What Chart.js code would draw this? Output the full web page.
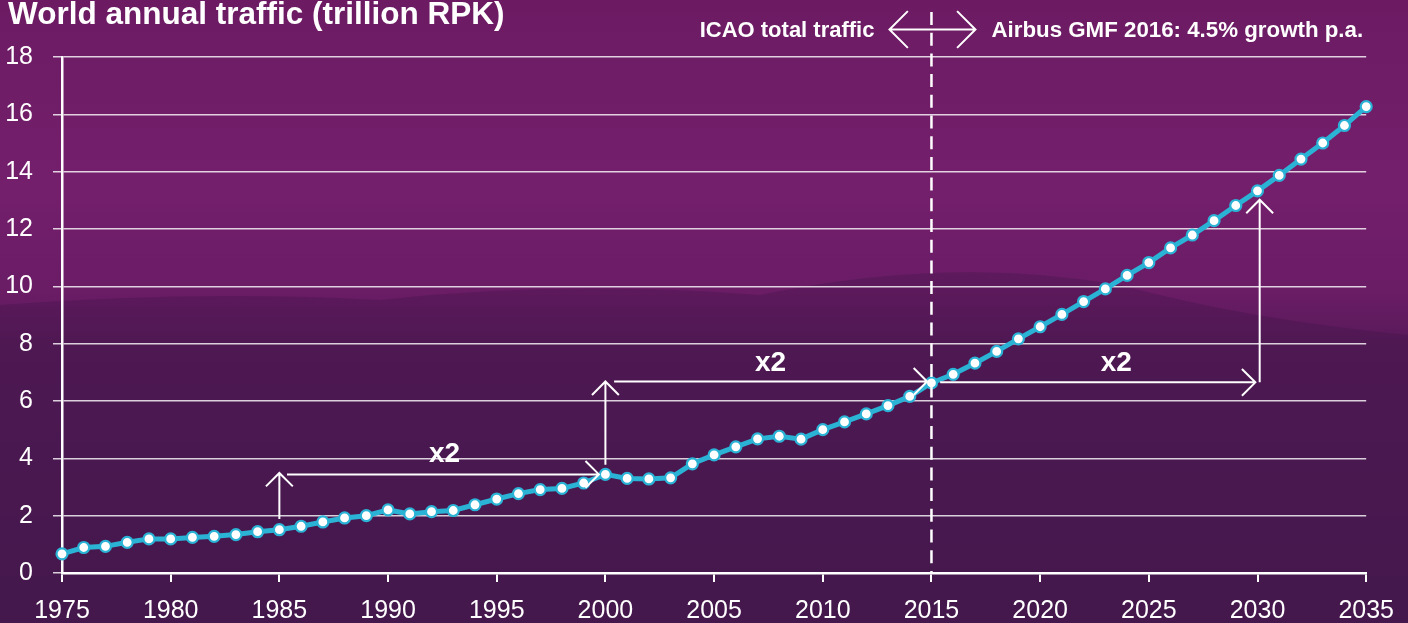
<!DOCTYPE html>
<html lang="en">
<head>
  <meta charset="UTF-8">
  <title>World annual traffic</title>
  <script src="https://cdn.jsdelivr.net/npm/chart.js"></script>
  <style>
    html, body { margin: 0; padding: 0; background: #5a1a5c; }
    .chart-container { width: 1408px; height: 623px; position: relative; }
  </style>
</head>
<body>
  <div class="chart-container">
    <canvas id="trafficChart"></canvas>
  </div>

  <script>
    const years = [1975, 1976, 1977, 1978, 1979, 1980, 1981, 1982, 1983, 1984,
      1985, 1986, 1987, 1988, 1989, 1990, 1991, 1992, 1993, 1994,
      1995, 1996, 1997, 1998, 1999, 2000, 2001, 2002, 2003, 2004,
      2005, 2006, 2007, 2008, 2009, 2010, 2011, 2012, 2013, 2014,
      2015, 2016, 2017, 2018, 2019, 2020, 2021, 2022, 2023, 2024,
      2025, 2026, 2027, 2028, 2029, 2030, 2031, 2032, 2033, 2034, 2035];
    const traffic = [0.67, 0.89, 0.93, 1.07, 1.19, 1.19, 1.24, 1.28, 1.34, 1.44,
      1.51, 1.63, 1.78, 1.92, 2.00, 2.20, 2.06, 2.14, 2.18, 2.38,
      2.58, 2.77, 2.91, 2.95, 3.14, 3.44, 3.30, 3.28, 3.32, 3.81,
      4.12, 4.40, 4.68, 4.77, 4.67, 5.00, 5.27, 5.55, 5.84, 6.16,
      6.63, 6.93, 7.32, 7.73, 8.17, 8.59, 9.02, 9.47, 9.91, 10.38,
      10.83, 11.34, 11.79, 12.29, 12.82, 13.33, 13.87, 14.44, 15.00, 15.61, 16.27];
    const xTicks = [1975, 1980, 1985, 1990, 1995, 2000, 2005, 2010, 2015, 2020, 2025, 2030, 2035];
    const yTicks = [0, 2, 4, 6, 8, 10, 12, 14, 16, 18];

    const title = 'World annual traffic (trillion RPK)';
    const historyLabel = 'ICAO total traffic';
    const forecastLabel = 'Airbus GMF 2016: 4.5% growth p.a.';
    const splitYear = 2015;
    const doublingLabel = 'x2';
    // doubling arrows: [x1, y1, x2, y2] in data units, head at the end
    const doublingArrows = [
      [1985, 1.88, 1985, 3.49],
      [1985.35, 3.44, 1999.7, 3.44],
      [2000, 3.78, 2000, 6.68],
      [2000.4, 6.68, 2014.8, 6.68],
      [2015.4, 6.65, 2029.9, 6.65],
      [2030.1, 6.65, 2030.1, 13.02]
    ];
    const doublingLabelPos = [[1992.6, 4.13], [2007.6, 7.32], [2023.5, 7.32]];

    const tickFont = "'Liberation Sans', Arial, sans-serif";
    const boldFont = "'Liberation Sans', Arial, sans-serif";

    function fitFont(ctx, text, weight, family, width) {
      ctx.font = weight + ' 100px ' + family;
      const size = 100 * width / ctx.measureText(text).width;
      return weight + ' ' + size.toFixed(1) + 'px ' + family;
    }

    function arrowLine(ctx, x1, y1, x2, y2, head, both) {
      ctx.beginPath();
      ctx.moveTo(x1, y1);
      ctx.lineTo(x2, y2);
      const a = Math.atan2(y2 - y1, x2 - x1);
      const heads = both ? [[x2, y2, a], [x1, y1, a + Math.PI]] : [[x2, y2, a]];
      heads.forEach(([hx, hy, ang]) => {
        ctx.moveTo(hx - head * Math.cos(ang - Math.PI / 4), hy - head * Math.sin(ang - Math.PI / 4));
        ctx.lineTo(hx, hy);
        ctx.lineTo(hx - head * Math.cos(ang + Math.PI / 4), hy - head * Math.sin(ang + Math.PI / 4));
      });
      ctx.stroke();
    }

    const backdrop = {
      id: 'backdrop',
      beforeDraw(chart) {
        const { ctx, width, height } = chart;
        ctx.save();
        const g = ctx.createLinearGradient(0, 0, 0, height);
        g.addColorStop(0, '#6c1b63');
        g.addColorStop(0.3, '#741f6c');
        g.addColorStop(0.47, '#6a1c65');
        g.addColorStop(0.56, '#561a58');
        g.addColorStop(1, '#481a50');
        ctx.fillStyle = g;
        ctx.fillRect(0, 0, width, height);
        // soft hills
        ctx.fillStyle = 'rgba(60, 20, 70, 0.3)';
        ctx.beginPath();
        ctx.moveTo(0, 305);
        ctx.quadraticCurveTo(200, 290, 380, 300);
        ctx.quadraticCurveTo(560, 280, 760, 295);
        ctx.quadraticCurveTo(950, 255, 1120, 285);
        ctx.quadraticCurveTo(1250, 320, 1408, 335);
        ctx.lineTo(width, height);
        ctx.lineTo(0, height);
        ctx.closePath();
        ctx.fill();
        ctx.restore();
      }
    };

    const annotations = {
      id: 'annotations',
      afterDatasetsDraw(chart) {
        const { ctx, scales: { x, y } } = chart;
        ctx.save();
        ctx.strokeStyle = '#ffffff';
        ctx.fillStyle = '#ffffff';

        // split line
        const sx = x.getPixelForValue(splitYear);
        ctx.lineWidth = 2.5;
        ctx.setLineDash([13, 7.7]);
        ctx.beginPath();
        ctx.moveTo(sx, 12);
        ctx.lineTo(sx, y.getPixelForValue(0));
        ctx.stroke();
        ctx.setLineDash([]);

        // header
        ctx.lineWidth = 2;
        arrowLine(ctx, sx - 42, 29.5, sx + 44, 29.5, 26, true);
        ctx.textBaseline = 'middle';
        ctx.font = fitFont(ctx, historyLabel, 'bold', boldFont, 175);
        ctx.textAlign = 'right';
        ctx.fillText(historyLabel, sx - 57, 31);
        ctx.font = fitFont(ctx, forecastLabel, 'bold', boldFont, 372);
        ctx.textAlign = 'left';
        ctx.fillText(forecastLabel, sx + 60, 31);

        ctx.textBaseline = 'alphabetic';
        ctx.font = fitFont(ctx, title, 'bold', boldFont, 497);
        ctx.fillText(title, 8, 24);

        // doubling arrows
        doublingArrows.forEach(([x1, y1, x2, y2]) => {
          arrowLine(ctx, x.getPixelForValue(x1), y.getPixelForValue(y1),
            x.getPixelForValue(x2), y.getPixelForValue(y2), 19, false);
        });
        ctx.font = 'bold 28px ' + boldFont;
        ctx.textAlign = 'center';
        ctx.textBaseline = 'middle';
        doublingLabelPos.forEach(([lx, ly]) => {
          ctx.fillText(doublingLabel, x.getPixelForValue(lx), y.getPixelForValue(ly));
        });
        ctx.restore();
      }
    };

    const trafficChart = new Chart(document.getElementById('trafficChart'), {
      type: 'line',
      data: {
        datasets: [{
          label: 'World annual traffic',
          data: years.map((yr, i) => ({ x: yr, y: traffic[i] })),
          borderColor: '#2bb3d6',
          borderWidth: 5,
          pointRadius: 5.5,
          pointBorderWidth: 2.2,
          pointBackgroundColor: '#ffffff',
          pointBorderColor: '#2bb3d6',
          tension: 0,
          clip: false
        }]
      },
      options: {
        responsive: true,
        maintainAspectRatio: false,
        animation: false,
        layout: { padding: { top: 57, right: 41, left: 0, bottom: 0 } },
        plugins: { legend: { display: false }, tooltip: { enabled: false } },
        scales: {
          x: {
            type: 'linear',
            min: 1975,
            max: 2035,
            afterFit(scale) { scale.height = 50; },
            afterBuildTicks(scale) { scale.ticks = xTicks.map(v => ({ value: v })); },
            grid: { drawOnChartArea: false, drawTicks: true, tickLength: 9, color: '#ffffff', lineWidth: 2 },
            border: { color: '#ffffff', width: 2.5 },
            ticks: { color: '#ffffff', font: { family: tickFont, size: 25 }, padding: 14, callback: v => String(v) }
          },
          y: {
            min: 0,
            max: 18,
            afterFit(scale) { scale.width = 62; },
            afterBuildTicks(scale) { scale.ticks = yTicks.map(v => ({ value: v })); },
            grid: { color: 'rgba(255,255,255,0.8)', lineWidth: 1.5, tickLength: 9 },
            border: { color: '#ffffff', width: 2.5 },
            ticks: { color: '#ffffff', font: { family: tickFont, size: 25 }, padding: 20, callback: v => String(v) }
          }
        }
      },
      plugins: [backdrop, annotations]
    });
  </script>
</body>
</html>
